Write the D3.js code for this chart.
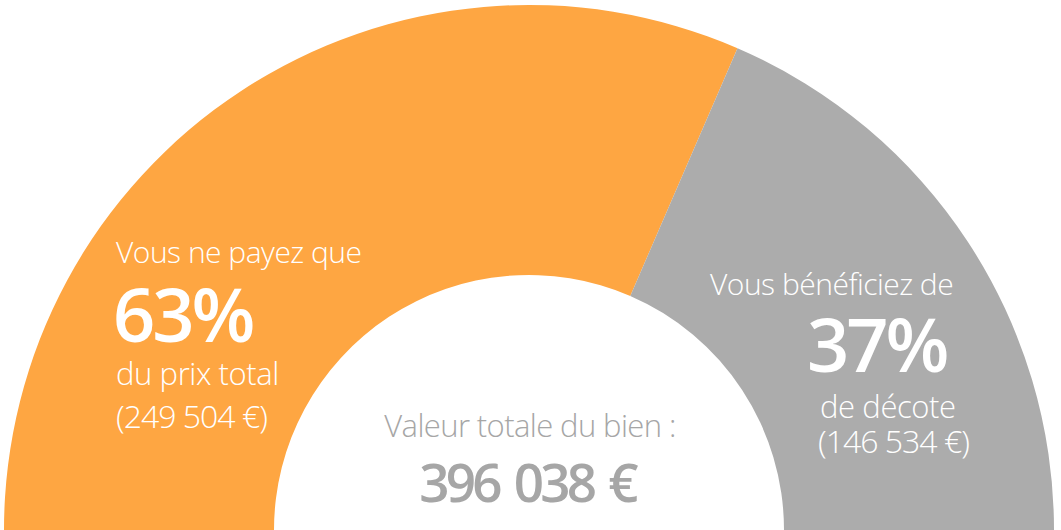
<!DOCTYPE html>
<html>
<head>
<meta charset="utf-8">
<script src="https://cdn.jsdelivr.net/npm/d3@7"></script>
<style>
    body { margin: 0; background: #ffffff; }
    svg { display: block; }
    .label { fill: #ffffff; font-family: "Open Sans", sans-serif; }
    .centerLabel { fill: #a6a6a6; font-family: "Open Sans", sans-serif; text-anchor: middle; }
</style>
</head>
<body>
<div id="gauge"></div>
<script>

//- Chart values
const segmentNames = ["paid", "discount"];
const segmentValues = [249504, 146534];            // amounts in euros
const segmentColors = ["#fea642", "#acacac"];
const introLabels = ["Vous ne payez que", "Vous bénéficiez de"];
const percentLabels = ["63%", "37%"];
const suffixLabels = ["du prix total", "de décote"];
const amountLabels = ["(249 504 €)", "(146 534 €)"];
const totalCaption = "Valeur totale du bien :";
const totalLabel = "396 038 €";

const WIDTH = 1061;
const HEIGHT = 530;

const _center = { x: 529, y: 530 };
const _radius = { inner: 255, outer: 525 };


function createGauge(){
    /* Draws the half donut and its text blocks */

    let svg = d3.select("#gauge").append("svg")
        .attr("width", WIDTH)
        .attr("height", HEIGHT);

    let gaugeGroup = svg.append("g")
        .attr("transform", `translate(${_center.x}, ${_center.y})`);

    //- Half pie from left (-90deg) to right (+90deg)
    let pie = d3.pie()
        .sort(null)
        .startAngle(-Math.PI / 2)
        .endAngle(Math.PI / 2);

    let arc = d3.arc()
        .innerRadius(_radius.inner)
        .outerRadius(_radius.outer);

    gaugeGroup.selectAll("path")
        .data(pie(segmentValues))
        .enter()
        .append("path")
        .attr("d", arc)
        .attr("fill", (d, i) => segmentColors[i]);


    //-- Text blocks, one per segment
    //  positions: [intro, percent, suffix, amount] as {x, y} baselines
    let blockLayout = [
        { intro: [116, 263], percent: [113, 342], suffix: [116, 385], amount: [116, 428] },
        { intro: [710, 295], percent: [807, 372], suffix: [820, 418], amount: [818, 453] }
    ];

    let textGroup = svg.append("g");

    segmentNames.forEach((name, i) => {
        let pos = blockLayout[i];

        textGroup.append("text")
            .attr("class", "label")
            .attr("x", pos.intro[0]).attr("y", pos.intro[1])
            .attr("font-size", 30).attr("font-weight", 300)
            .attr("letter-spacing", -0.5)
            .text(introLabels[i]);

        textGroup.append("text")
            .attr("class", "label")
            .attr("x", pos.percent[0]).attr("y", pos.percent[1])
            .attr("font-size", 74).attr("font-weight", 600)
            .attr("letter-spacing", -3)
            .text(percentLabels[i]);

        textGroup.append("text")
            .attr("class", "label")
            .attr("x", pos.suffix[0]).attr("y", pos.suffix[1])
            .attr("font-size", 31).attr("font-weight", 300)
            .attr("letter-spacing", -0.4)
            .text(suffixLabels[i]);

        textGroup.append("text")
            .attr("class", "label")
            .attr("x", pos.amount[0]).attr("y", pos.amount[1])
            .attr("font-size", 32).attr("font-weight", 300)
            .attr("letter-spacing", -1)
            .text(amountLabels[i]);
    });


    //- Center caption
    textGroup.append("text")
        .attr("class", "centerLabel")
        .attr("x", 530).attr("y", 437)
        .attr("font-size", 31).attr("font-weight", 300)
        .attr("letter-spacing", -0.6)
        .text(totalCaption);

    textGroup.append("text")
        .attr("class", "centerLabel")
        .attr("x", 527).attr("y", 502)
        .attr("font-size", 53).attr("font-weight", 600)
        .attr("letter-spacing", -3.8)
        .attr("word-spacing", 5)
        .text(totalLabel);
}


createGauge();

</script>
</body>
</html>
